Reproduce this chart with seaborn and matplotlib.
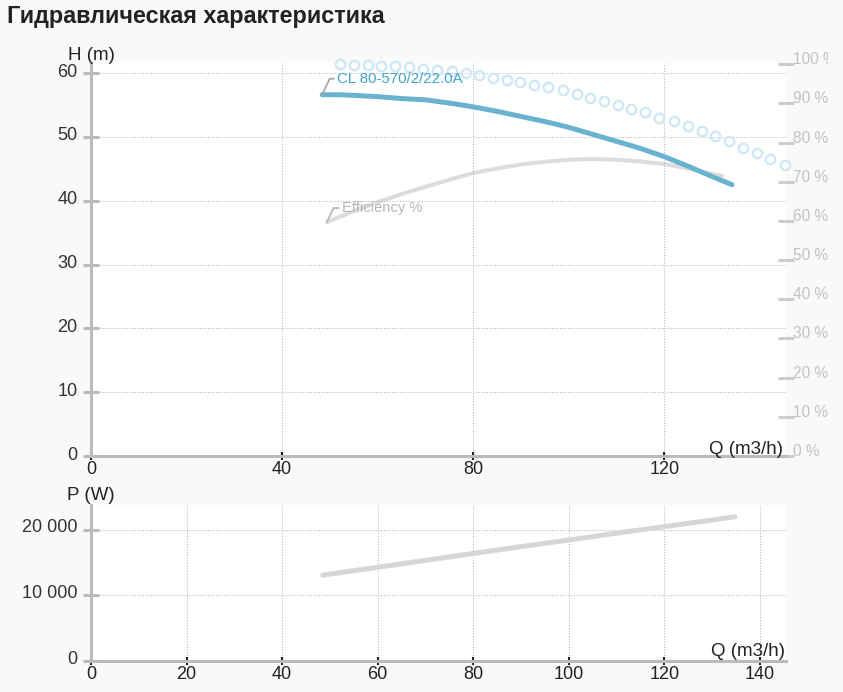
import matplotlib
matplotlib.use("Agg")
import matplotlib.pyplot as plt
import seaborn as sns
from matplotlib.transforms import ScaledTranslation, Bbox, TransformedBbox, IdentityTransform

# ---------------- data ----------------
title = "Гидравлическая характеристика"
pump_name = "CL 80-570/2/22.0A"

q_head = [48.4, 52, 55, 60, 65, 70, 75, 80, 85, 90, 95, 100, 105, 110, 115, 120, 125, 130, 134.2]
head = [56.6, 56.6, 56.5, 56.3, 56.0, 55.8, 55.3, 54.7, 54.0, 53.2, 52.4, 51.5, 50.4, 49.3, 48.2, 46.9, 45.4, 43.8, 42.5]

q_eff = [49.4, 55, 60, 65, 70, 75, 80, 85, 90, 95, 100, 105, 110, 115, 120, 125, 130, 132.1]
eff = [59.7, 62.5, 64.8, 66.8, 68.7, 70.5, 72.2, 73.4, 74.4, 75.1, 75.6, 75.8, 75.6, 75.2, 74.5, 73.4, 72.0, 71.5]

q_dots = [52.1, 55.1, 58.0, 60.7, 63.6, 66.6, 69.5, 72.4, 75.6, 78.5, 81.2, 84.2, 87.1, 89.8, 92.7,
          95.7, 98.8, 101.7, 104.5, 107.4, 110.3, 113.0, 116.0, 118.9, 122.1, 125.0, 127.9, 130.6,
          133.6, 136.5, 139.4, 142.1, 145.3]
h_dots = [61.37, 61.26, 61.26, 61.1, 61.1, 60.9, 60.68, 60.47, 60.3, 60.05, 59.7, 59.27, 58.9, 58.55,
          58.17, 57.76, 57.3, 56.7, 56.13, 55.57, 55.0, 54.4, 53.85, 53.0, 52.5, 51.65, 50.9, 50.1,
          49.35, 48.3, 47.5, 46.6, 45.6]

q_pow = [48.5, 60, 70, 80, 90, 100, 110, 120, 130, 134.8]
power = [13100, 14300, 15350, 16400, 17450, 18450, 19500, 20500, 21500, 22000]

h_ticks = [0, 10, 20, 30, 40, 50, 60]
q_ticks_top = [0, 40, 80, 120]
q_ticks_bottom = [0, 20, 40, 60, 80, 100, 120, 140]
pct_ticks = [0, 10, 20, 30, 40, 50, 60, 70, 80, 90, 100]
p_ticks = [0, 10000, 20000]
p_tick_labels = ["0", "10 000", "20 000"]

# ---------------- style ----------------
sns.set_theme(style="white")
plt.rcParams["font.family"] = ["Liberation Sans", "DejaVu Sans"]

W, H = 843, 692
fig = plt.figure(figsize=(W / 100, H / 100), dpi=100, facecolor="#f9f9f9")


def px_axes(l, t, r, b):
    return fig.add_axes([l / W, 1 - b / H, (r - l) / W, (b - t) / H])


ax = px_axes(91, 63, 786, 456)
axp = px_axes(91, 505, 786, 661)
ax2 = ax.twinx()

# draw order: head axes above efficiency axes
ax.set_zorder(2)
ax.patch.set_visible(False)
ax2.set_zorder(1)
ax2.patch.set_visible(True)
ax2.patch.set_facecolor("white")
axp.set_facecolor("white")

BLUE = "#6ab3d0"
DOT = "#cfe8f5"
GRAY_LINE = "#dcdcdc"
SPINE = "#bbbbbb"
GRID = "#b8b8b8"
TXT = "#222222"

# ---------------- top chart ----------------
sns.lineplot(x=q_dots, y=h_dots, ax=ax, linestyle="none", marker="o", markersize=6.8,
             markerfacecolor="none", markeredgecolor=DOT, markeredgewidth=1.7,
             clip_on=False, sort=False, estimator=None, legend=False, zorder=3)
sns.lineplot(x=q_head, y=head, ax=ax, color=BLUE, linewidth=3.6, sort=False,
             estimator=None, legend=False, zorder=4)
sns.lineplot(x=q_eff, y=eff, ax=ax2, color=GRAY_LINE, linewidth=2.9, sort=False,
             estimator=None, legend=False, zorder=3)

ax.set_xlim(0, 145.5)
ax.set_ylim(0, 61.57)
ax2.set_ylim(0, 100.3)
ax.set_xticks(q_ticks_top)
ax.set_xticklabels([str(v) for v in q_ticks_top])
ax.set_yticks(h_ticks)
ax.set_yticklabels([str(v) for v in h_ticks])
ax2.set_yticks(pct_ticks)
ax2.set_yticklabels([f"{v} %" for v in pct_ticks])
ax.set_xlabel("")
ax.set_ylabel("")
ax2.set_ylabel("")

# ---------------- bottom chart ----------------
sns.lineplot(x=q_pow, y=power, ax=axp, color="#d6d6d6", linewidth=3.6, sort=False,
             estimator=None, legend=False, zorder=3)
axp.set_xlim(0, 145.5)
axp.set_ylim(0, 23800)
axp.set_xticks(q_ticks_bottom)
axp.set_xticklabels([str(v) for v in q_ticks_bottom])
axp.set_yticks(p_ticks)
axp.set_yticklabels(p_tick_labels)
axp.set_xlabel("")
axp.set_ylabel("")

# ---------------- axis styling ----------------
for a in (ax, axp):
    a.grid(True, linestyle=(0, (1, 1.6)), color=GRID, linewidth=0.75)
    a.set_axisbelow(True)
    for s in ("top", "right"):
        a.spines[s].set_visible(False)
    for s in ("left", "bottom"):
        a.spines[s].set_color(SPINE)
        a.spines[s].set_linewidth(2.2)
    a.tick_params(axis="y", direction="inout", length=12.2, width=2.2, color=SPINE,
                  labelsize=13, labelcolor="#333333", pad=3.5, left=True)
    a.tick_params(axis="x", direction="inout", length=6, width=1.5, color=TXT,
                  labelsize=13, labelcolor=TXT, pad=0.5, bottom=True)
for s in ax2.spines.values():
    s.set_visible(False)
ax2.grid(False)
ax2.tick_params(axis="y", direction="inout", length=11.5, width=2.2, color="#cccccc",
                labelsize=11.2, labelcolor="#c2c2c2", pad=-1.0, right=True)

# shift y tick labels slightly upward as in reference
up3 = ScaledTranslation(0, 3 / 100, fig.dpi_scale_trans)
up4 = ScaledTranslation(0, 4 / 100, fig.dpi_scale_trans)
up6 = ScaledTranslation(0, 6 / 100, fig.dpi_scale_trans)
for lab in ax.get_yticklabels():
    lab.set_transform(lab.get_transform() + up3)
for lab in axp.get_yticklabels():
    lab.set_transform(lab.get_transform() + up4)
clip = TransformedBbox(Bbox.from_extents(0, 0, 828, H), IdentityTransform())
for lab in ax2.get_yticklabels():
    lab.set_transform(lab.get_transform() + up6)
    lab.set_clip_on(True)
    lab.set_clip_box(clip)

# ---------------- annotations ----------------
ax.annotate(pump_name, xy=(q_head[0], head[0]), xytext=(15, 16), textcoords="offset pixels",
            ha="left", va="center", fontsize=10.8, color="#3fa2cd", zorder=5,
            annotation_clip=False,
            arrowprops=dict(arrowstyle="-", color="#a8a8a8", lw=1.3, shrinkA=0, shrinkB=0,
                            connectionstyle="angle,angleA=0,angleB=65,rad=0", relpos=(0, 0.5)))
ax2.annotate("Efficiency %", xy=(q_eff[0], eff[0]), xytext=(15, 14), textcoords="offset pixels",
             ha="left", va="center", fontsize=10.6, color="#b8b8b8", zorder=5,
             annotation_clip=False,
             arrowprops=dict(arrowstyle="-", color="#b8b8b8", lw=1.3, shrinkA=0, shrinkB=0,
                             connectionstyle="angle,angleA=0,angleB=65,rad=0", relpos=(0, 0.5)))

# axis titles
fig.text(91 / W, 1 - 55 / H, "H (m)", ha="center", va="center", fontsize=13.5, color=TXT)
fig.text(91 / W, 1 - 496 / H, "P (W)", ha="center", va="center", fontsize=13.5, color=TXT)
fig.text(783 / W, 1 - 449 / H, "Q (m3/h)", ha="right", va="center", fontsize=13.5, color=TXT)
fig.text(785 / W, 1 - 652 / H, "Q (m3/h)", ha="right", va="center", fontsize=13.5, color=TXT)

# title
fig.text(7 / W, 1 - 16 / H, title, ha="left", va="center", fontsize=16.8,
         fontweight="bold", color=TXT)

fig.savefig("out.png", dpi=100, facecolor=fig.get_facecolor())
